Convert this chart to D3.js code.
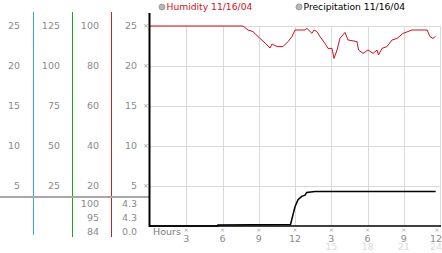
<!DOCTYPE html>
<html><head><meta charset="utf-8">
<script src="https://cdn.jsdelivr.net/npm/d3@7"></script>
<style>
html,body{margin:0;padding:0;background:#fff;}
svg{display:block;font-family:"DejaVu Sans",sans-serif;}
</style></head>
<body><svg id="c" width="442" height="253"></svg>
<script>
// ---- data ----
const humidityHours = [0,7.7,8.11,8.52,8.94,9.52,9.93,10.1,10.35,10.59,11.01,11.42,11.75,12.0,12.83,12.99,13.41,13.57,13.82,14.07,14.48,14.73,15.06,15.23,15.48,15.72,16.14,16.39,17.13,17.26,17.63,18.04,18.46,18.79,18.91,19.2,19.61,20.03,20.45,20.94,21.68,22.93,23.17,23.42,23.63];
const humidityValues = [100,100,98,97.2,94.7,91.5,89,91,90.2,89.7,89.7,92.2,94.7,98,98,98.8,96.3,98,97.2,94.7,91.3,88.8,88.8,83.8,88,93.8,96.8,93,92.2,88,86.3,88,86.3,88,85.5,88.8,89.7,93,93.8,96.3,98,98,94.7,93.8,94.8];
const precipHours = [0,5.63,5.63,11.63,12.0,12.25,12.55,12.83,12.97,13.66,23.64];
const precipValues = [0,0,0.12,0.2,2.4,3.3,3.7,3.85,4.2,4.3,4.3];
const col1Ticks = [25,20,15,10,5];
const col2Ticks = [125,100,75,50,25];
const col3Ticks = [100,80,60,40,20];
const col4Ticks = [25,20,15,10,5];
const humidityStats = ["100","95","84"];
const precipStats = ["4.3","4.3","0.0"];
const hourTicks = [3,6,9,12,15,18,21,24];
const hourLabels = ["3","6","9","12","3","6","9","12"];
const hourTicks24 = [15,18,21,24];
const hourLabels24 = ["15","18","21","24"];
const legendItems = ["Humidity 11/16/04","Precipitation 11/16/04"];

// ---- scales ----
const svg = d3.select("#c");
const x = d3.scaleLinear().domain([0,24]).range([150,440]);
const y25 = d3.scaleLinear().domain([0,25]).range([226,26]);
const y125 = d3.scaleLinear().domain([0,125]).range([226,26]);
const y100 = d3.scaleLinear().domain([0,100]).range([226,26]);
const FS = 9.5;

// grid
svg.append("g").selectAll("line").data(col4Ticks).join("line")
  .attr("x1",150).attr("x2",441).attr("y1",d=>y25(d)+0.5).attr("y2",d=>y25(d)+0.5)
  .attr("stroke","#d9d9d9").attr("stroke-width",1);
svg.append("g").selectAll("line").data(hourTicks).join("line")
  .attr("x1",d=>Math.round(x(d))+0.5).attr("x2",d=>Math.round(x(d))+0.5)
  .attr("y1",26).attr("y2",226)
  .attr("stroke","#d9d9d9").attr("stroke-width",1);

// left panel vertical colored lines
const vlines = [{x:33.5,c:"#2ab4d4",y2:235},{x:72.5,c:"#22a022",y2:237},{x:111.5,c:"#c8242c",y2:237}];
svg.append("g").selectAll("line").data(vlines).join("line")
  .attr("x1",d=>d.x).attr("x2",d=>d.x).attr("y1",12).attr("y2",d=>d.y2)
  .attr("stroke",d=>d.c).attr("stroke-width",1);

// gray horizontal divider
svg.append("line").attr("x1",0).attr("x2",149).attr("y1",197).attr("y2",197)
  .attr("stroke","#a8a8a8").attr("stroke-width",2);

// left labels
const lab = (data, scale, xr) => svg.append("g").selectAll("text").data(data).join("text")
  .attr("x",xr).attr("y",d=>scale(d)).attr("dy","0.35em").attr("text-anchor","end")
  .attr("fill","#8a8a8a").attr("font-size",FS).text(d=>d);
lab(col1Ticks,y25,20);
lab(col2Ticks,y125,60);
lab(col3Ticks,y100,99);
lab(col4Ticks,y25,137);

// tick marks near plot left
svg.append("g").selectAll("text").data(col4Ticks).join("text")
  .attr("x",146).attr("y",d=>y25(d)).attr("dy","0.35em").attr("text-anchor","middle")
  .attr("fill","#a0a0a0").attr("font-size",7).text("\u00d7");

// stats
const statY = [204,218,232];
svg.append("g").selectAll("text").data(humidityStats).join("text")
  .attr("x",99).attr("y",(d,i)=>statY[i]).attr("dy","0.35em").attr("text-anchor","end")
  .attr("fill","#8a8a8a").attr("font-size",FS).text(d=>d);
svg.append("g").selectAll("text").data(precipStats).join("text")
  .attr("x",137).attr("y",(d,i)=>statY[i]).attr("dy","0.35em").attr("text-anchor","end")
  .attr("fill","#8a8a8a").attr("font-size",FS).text(d=>d);

// x axis labels
svg.append("text").attr("x",153).attr("y",232).attr("dy","0.35em")
  .attr("fill","#7a7a7a").attr("font-size",FS).text("Hours");
svg.append("g").selectAll("text").data(hourTicks).join("text")
  .attr("x",d=>Math.min(x(d),437)).attr("y",229.5).attr("dy","0.35em").attr("text-anchor","middle")
  .attr("fill","#a0a0a0").attr("font-size",6).text("\u00d7");
svg.append("g").selectAll("text").data(hourTicks).join("text")
  .attr("x",(d,i)=>Math.min(x(d),436)).attr("y",238.5).attr("dy","0.35em").attr("text-anchor","middle")
  .attr("fill","#8a8a8a").attr("font-size",FS).text((d,i)=>hourLabels[i]);
svg.append("g").selectAll("text").data(hourTicks24).join("text")
  .attr("x",d=>Math.min(x(d),436)).attr("y",247).attr("dy","0.35em").attr("text-anchor","middle")
  .attr("fill","#dadada").attr("font-size",FS).text((d,i)=>hourLabels24[i]);

// lines
const lineHs = d3.line().x(d=>x(d[0])).y(d=>y100(d[1]));
svg.append("path").datum(humidityHours.map((h,i)=>[h,humidityValues[i]]))
  .attr("d",lineHs).attr("fill","none").attr("stroke","#cc1020").attr("stroke-width",1);
const lineP = d3.line().x(d=>x(d[0])).y(d=>y25(d[1]));
svg.append("path").datum(precipHours.map((h,i)=>[h,precipValues[i]]))
  .attr("d",lineP).attr("fill","none").attr("stroke","#000").attr("stroke-width",1.5);

// plot axes
svg.append("line").attr("x1",149.5).attr("x2",149.5).attr("y1",13).attr("y2",227)
  .attr("stroke","#000").attr("stroke-width",2);
svg.append("line").attr("x1",149).attr("x2",441).attr("y1",226).attr("y2",226)
  .attr("stroke","#000").attr("stroke-width",1.5);

// legend
const legX = [162,299];
const legC = ["#cc1020","#000"];
const lg = svg.append("g").selectAll("g").data(legendItems).join("g");
lg.append("circle").attr("cx",(d,i)=>legX[i]).attr("cy",7).attr("r",3)
  .attr("fill","#b8b8b8").attr("stroke","#909090").attr("stroke-width",0.8);
lg.append("text").attr("x",(d,i)=>legX[i]+4.5).attr("y",7).attr("dy","0.35em")
  .attr("fill",(d,i)=>legC[i]).attr("font-size",9.2).text(d=>d);
</script></body></html>
